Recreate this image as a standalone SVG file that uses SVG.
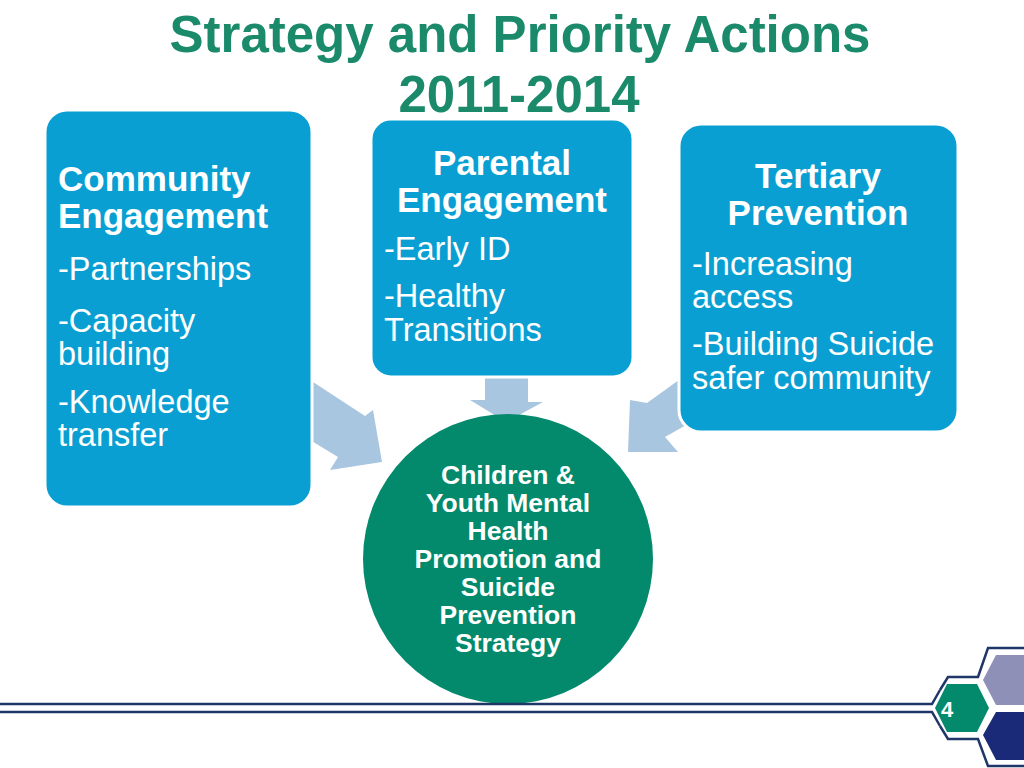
<svg xmlns="http://www.w3.org/2000/svg" width="1024" height="768" viewBox="0 0 1024 768">
<style>
.box{fill:#0a9fd2;stroke:#fff;stroke-width:3}
.arr{fill:#a9c6e0}
.hd{font-family:"Liberation Sans",Arial,sans-serif;font-weight:bold;font-size:35px;fill:#fff}
.tx{font-family:"Liberation Sans",Arial,sans-serif;font-size:32.5px;fill:#fff}
.ct{font-family:"Liberation Sans",Arial,sans-serif;font-weight:bold;font-size:26.5px;fill:#fff}
.title{font-family:"Liberation Sans",Arial,sans-serif;font-weight:bold;font-size:51px;fill:#1a8a6b}
.navy{fill:none;stroke:#1f3668;stroke-width:2.5}
</style>
<rect width="1024" height="768" fill="#fff"/>
<text class="title" x="520" y="52" text-anchor="middle">Strategy and Priority Actions</text>
<text class="title" x="519" y="112" text-anchor="middle">2011-2014</text>

<g id="connectors">
<polygon class="arr" points="310,380 365,416 373,410 382,462 330,470 338,457 310,440"/>
<polygon class="arr" points="485,376 528,376 528,402 543,402 506,422 470,400 485,400"/>
<polygon class="arr" points="690,372 647,403 630,400 628,452 678,452 665,437 695,420"/>
</g>

<g id="community">
<rect class="box" x="45" y="110" width="267" height="397" rx="22"/>
<text class="hd" x="58" y="191">Community</text>
<text class="hd" x="58" y="228">Engagement</text>
<text class="tx" x="58" y="280">-Partnerships</text>
<text class="tx" x="58" y="332">-Capacity</text>
<text class="tx" x="58" y="365">building</text>
<text class="tx" x="58" y="413">-Knowledge</text>
<text class="tx" x="58" y="446">transfer</text>
</g>

<g id="parental">
<rect class="box" x="371" y="119" width="262" height="258" rx="20"/>
<text class="hd" x="502" y="175" text-anchor="middle">Parental</text>
<text class="hd" x="502" y="212" text-anchor="middle">Engagement</text>
<text class="tx" x="384" y="260">-Early ID</text>
<text class="tx" x="384" y="307">-Healthy</text>
<text class="tx" x="384" y="341">Transitions</text>
</g>

<g id="tertiary">
<rect class="box" x="679" y="124" width="279" height="308" rx="22"/>
<text class="hd" x="818" y="188" text-anchor="middle">Tertiary</text>
<text class="hd" x="818" y="225" text-anchor="middle">Prevention</text>
<text class="tx" x="692" y="275">-Increasing</text>
<text class="tx" x="692" y="308">access</text>
<text class="tx" x="692" y="355">-Building Suicide</text>
<text class="tx" x="692" y="389">safer community</text>
</g>

<g id="strategy">
<circle cx="508" cy="559" r="145" fill="#03896b"/>
<text class="ct" x="508" y="484" text-anchor="middle">Children &amp;</text>
<text class="ct" x="508" y="512" text-anchor="middle">Youth Mental</text>
<text class="ct" x="508" y="540" text-anchor="middle">Health</text>
<text class="ct" x="508" y="568" text-anchor="middle">Promotion and</text>
<text class="ct" x="508" y="596" text-anchor="middle">Suicide</text>
<text class="ct" x="508" y="624" text-anchor="middle">Prevention</text>
<text class="ct" x="508" y="652" text-anchor="middle">Strategy</text>
</g>

<g id="footer">
<polyline class="navy" points="0,704 932,704 940,690"/>
<polyline class="navy" points="0,712 932,712 940,726"/>
<polygon points="983,680 996,655 1024,655 1024,705 996,705" fill="#8e90b8"/>
<polygon points="983,735 996,712 1024,712 1024,760 996,760" fill="#1a2a78"/>
<polyline class="navy" points="940,690 948,677 978,677 988,648 1024,648"/>
<polyline class="navy" points="940,726 948,739 978,739 988,766 1024,766"/>
<polygon points="935,708 947,684 977,684 989,708 977,732 947,732" fill="#03896b"/>
<text x="947" y="717" font-family="Liberation Sans,Arial,sans-serif" font-weight="bold" font-size="22" fill="#fff" text-anchor="middle">4</text>
</g>
</svg>
